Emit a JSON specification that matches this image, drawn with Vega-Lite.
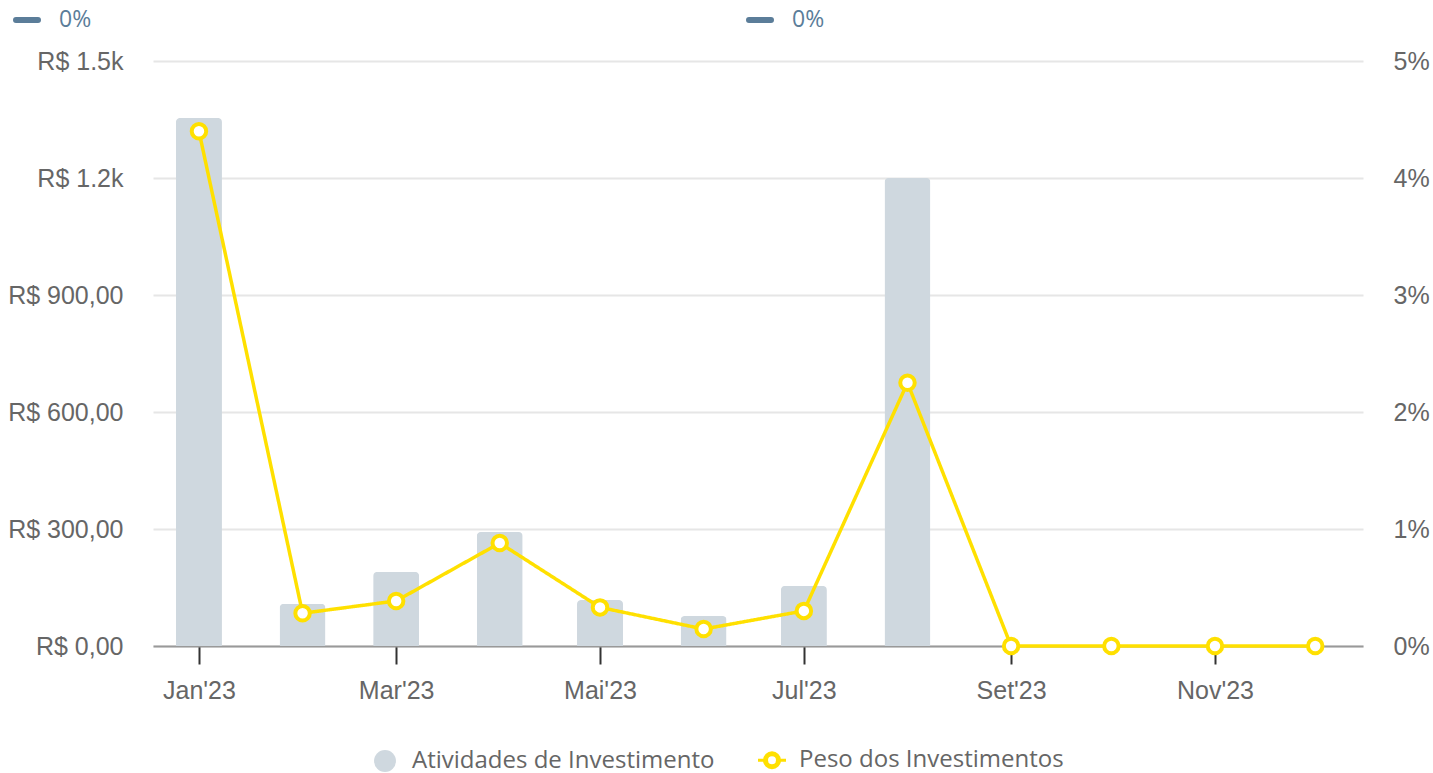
{
  "$schema": "https://vega.github.io/schema/vega-lite/v6.json",
  "width": 1210,
  "height": 585,
  "autosize": {"type": "none"},
  "padding": {"left": 153, "top": 61, "right": 70, "bottom": 127},
  "background": "white",
  "config": {"view": {"stroke": null}, "font": "Liberation Sans"},
  "data": {
    "values": [
      {"mes": "2023-01-01", "valor": 1354, "peso": 0.044},
      {"mes": "2023-02-01", "valor": 108, "peso": 0.0028},
      {"mes": "2023-03-01", "valor": 190, "peso": 0.00385},
      {"mes": "2023-04-01", "valor": 292, "peso": 0.0088},
      {"mes": "2023-05-01", "valor": 118, "peso": 0.0033},
      {"mes": "2023-06-01", "valor": 77, "peso": 0.00145},
      {"mes": "2023-07-01", "valor": 154, "peso": 0.003},
      {"mes": "2023-08-01", "valor": 1200, "peso": 0.0225},
      {"mes": "2023-09-01", "valor": 0, "peso": 0},
      {"mes": "2023-10-01", "valor": 0, "peso": 0},
      {"mes": "2023-11-01", "valor": 0, "peso": 0},
      {"mes": "2023-12-01", "valor": 0, "peso": 0}
    ]
  },
  "encoding": {
    "x": {
      "field": "mes",
      "type": "temporal",
      "scale": {
        "type": "utc",
        "nice": false,
        "padding": 0,
        "domain": [
          {"year": 2022, "month": 12, "date": 18, "hours": 6, "utc": true},
          {"year": 2023, "month": 12, "date": 15, "hours": 7, "utc": true}
        ]
      },
      "axis": {
        "values": [
          {"year": 2023, "month": 1, "date": 1, "utc": true},
          {"year": 2023, "month": 3, "date": 1, "utc": true},
          {"year": 2023, "month": 5, "date": 1, "utc": true},
          {"year": 2023, "month": 7, "date": 1, "utc": true},
          {"year": 2023, "month": 9, "date": 1, "utc": true},
          {"year": 2023, "month": 11, "date": 1, "utc": true}
        ],
        "labelExpr": "['Jan','Fev','Mar','Abr','Mai','Jun','Jul','Ago','Set','Out','Nov','Dez'][utcmonth(datum.value)] + \"'\" + utcFormat(datum.value, '%y')",
        "grid": false,
        "domainColor": "#999999",
        "domainWidth": 2,
        "tickColor": "#333333",
        "tickWidth": 2,
        "tickSize": 18,
        "labelPadding": 14,
        "labelFont": "Liberation Sans",
        "labelFontSize": 25,
        "labelColor": "#666666",
        "labelFlush": false,
        "labelOverlap": false,
        "title": null
      }
    }
  },
  "layer": [
    {
      "mark": {"type": "bar", "width": 46, "color": "#cfd8df", "cornerRadiusTopLeft": 4, "cornerRadiusTopRight": 4},
      "encoding": {
        "y": {
          "field": "valor",
          "type": "quantitative",
          "scale": {"domain": [0, 1500], "nice": false},
          "axis": {
            "values": [0, 300, 600, 900, 1200, 1500],
            "labelExpr": "datum.value >= 1000 ? 'R$ ' + format(datum.value / 1000, '.1f') + 'k' : 'R$ ' + replace(format(datum.value, '.2f'), '.', ',')",
            "domain": false,
            "ticks": false,
            "tickSize": 0,
            "labelPadding": 30,
            "gridColor": "#e6e6e6",
            "gridWidth": 2,
            "labelFont": "Liberation Sans",
            "labelFontSize": 25,
            "labelColor": "#666666",
            "title": null
          }
        },
        "color": {
          "datum": "Atividades de Investimento",
          "type": "nominal",
          "scale": {
            "domain": ["Atividades de Investimento", "Peso dos Investimentos"],
            "range": ["#cfd8df", "#ffe000"]
          },
          "legend": {
            "orient": "none",
            "legendX": 220,
            "legendY": 687,
            "direction": "horizontal",
            "title": null,
            "labelFont": "Open Sans",
            "labelFontSize": 24,
            "labelColor": "#666666",
            "labelLimit": 0,
            "symbolSize": 784,
            "labelOffset": 15,
            "columnPadding": 37,
            "encode": {
              "symbols": {
                "update": {
                  "shape": {"signal": "datum.value === 'Atividades de Investimento' ? 'circle' : 'M-1,0L-0.536,0M0.536,0L1,0M0.536,0A0.536,0.536,0,1,1,-0.536,0A0.536,0.536,0,1,1,0.536,0ZM0.393,0A0.393,0.393,0,1,0,-0.393,0A0.393,0.393,0,1,0,0.393,0Z'"},
                  "size": {"signal": "datum.value === 'Atividades de Investimento' ? 480 : 784"},
                  "strokeWidth": {"signal": "datum.value === 'Atividades de Investimento' ? 0 : 3"}
                }
              }
            }
          }
        }
      }
    },
    {
      "encoding": {
        "y": {
          "field": "peso",
          "type": "quantitative",
          "scale": {"domain": [0, 0.05], "nice": false},
          "axis": {
            "orient": "right",
            "values": [0, 0.01, 0.02, 0.03, 0.04, 0.05],
            "format": ".0%",
            "grid": false,
            "domain": false,
            "ticks": false,
            "tickSize": 0,
            "labelPadding": 30,
            "labelFont": "Liberation Sans",
            "labelFontSize": 25,
            "labelColor": "#666666",
            "title": null
          }
        }
      },
      "layer": [
        {
          "mark": {"type": "line", "strokeWidth": 3.5},
          "encoding": {
            "color": {"datum": "Peso dos Investimentos", "type": "nominal"},
            "strokeDash": {
              "datum": "0%",
              "type": "nominal",
              "scale": {"range": [[1, 0]]},
              "legend": {
                "orient": "none",
                "legendX": -140,
                "legendY": -55,
                "title": null,
                "labelFont": "Open Sans",
                "labelFontSize": 23,
                "labelColor": "#5b7d99",
                "labelLimit": 0,
                "symbolSize": 484,
                "labelOffset": 18,
                "symbolType": "stroke",
                "symbolStrokeColor": "#5b7d99",
                "symbolStrokeWidth": 6,
                "encode": {
                  "symbols": {
                    "update": {
                      "shape": {"value": "stroke"},
                      "stroke": {"value": "#5b7d99"},
                      "strokeWidth": {"value": 6},
                      "strokeCap": {"value": "round"}
                    }
                  }
                }
              }
            },
            "opacity": {
              "datum": "0% ",
              "type": "nominal",
              "scale": {"range": [1]},
              "legend": {
                "orient": "none",
                "legendX": 593,
                "legendY": -55,
                "title": null,
                "labelFont": "Open Sans",
                "labelFontSize": 23,
                "labelColor": "#5b7d99",
                "labelLimit": 0,
                "symbolSize": 484,
                "labelOffset": 18,
                "symbolType": "stroke",
                "symbolStrokeColor": "#5b7d99",
                "symbolStrokeWidth": 6,
                "encode": {
                  "symbols": {
                    "update": {
                      "shape": {"value": "stroke"},
                      "stroke": {"value": "#5b7d99"},
                      "strokeWidth": {"value": 6},
                      "strokeCap": {"value": "round"},
                      "strokeDash": {"value": [1, 0]}
                    }
                  }
                }
              }
            }
          }
        },
        {
          "mark": {"type": "point", "filled": true, "fill": "#ffffff", "stroke": "#ffe000", "strokeWidth": 4, "size": 210, "opacity": 1}
        }
      ]
    }
  ],
  "resolve": {"scale": {"y": "independent"}}
}
